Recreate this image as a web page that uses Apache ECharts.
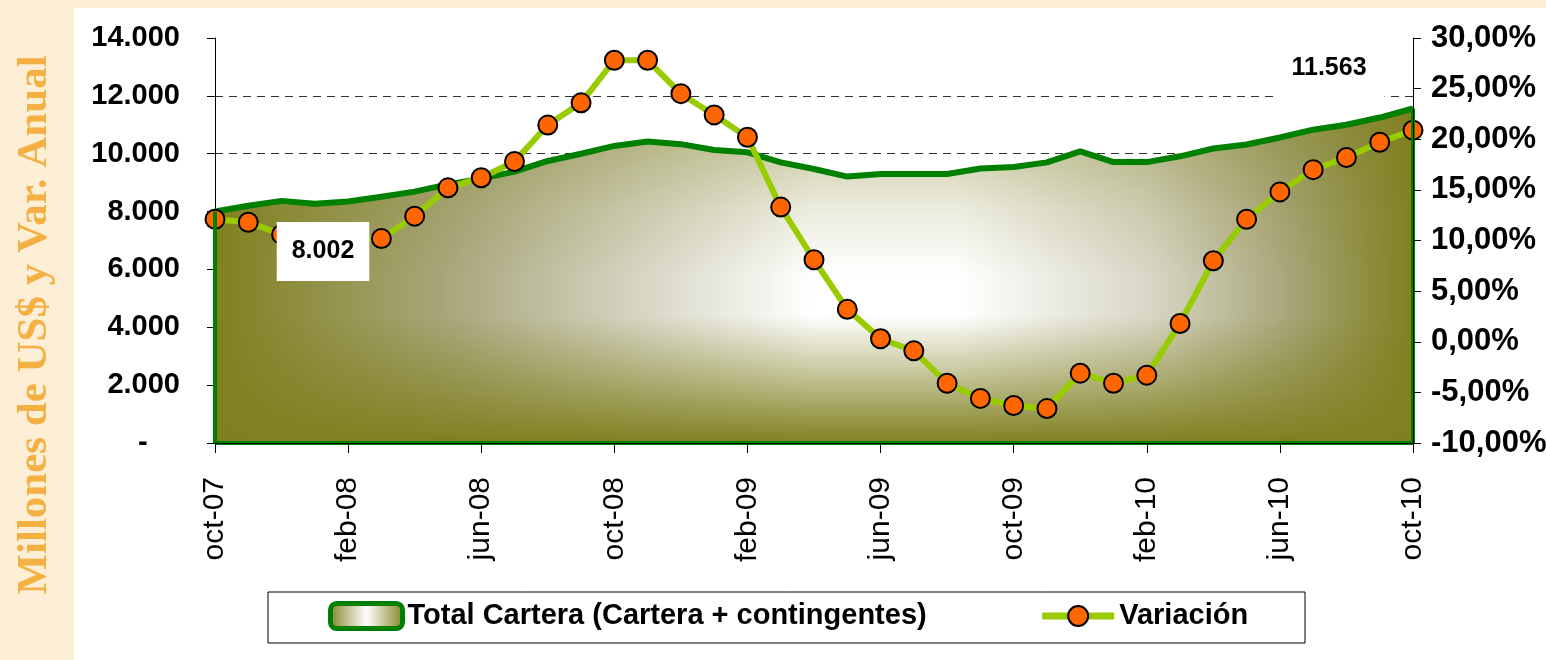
<!DOCTYPE html>
<html lang="es">
<head>
<meta charset="utf-8">
<title>Total Cartera y Variación</title>
<script src="https://cdn.jsdelivr.net/npm/echarts@6/dist/echarts.min.js"></script>
<style>
  html, body { margin: 0; padding: 0; }
  #chart { width: 1546px; height: 660px; }
</style>
</head>
<body>
<div id="chart"></div>
<script>
// meses oct-07 .. oct-10
var meses = ['oct-07','nov-07','dic-07','ene-08','feb-08','mar-08','abr-08','may-08','jun-08','jul-08','ago-08','sep-08',
             'oct-08','nov-08','dic-08','ene-09','feb-09','mar-09','abr-09','may-09','jun-09','jul-09','ago-09','sep-09',
             'oct-09','nov-09','dic-09','ene-10','feb-10','mar-10','abr-10','may-10','jun-10','jul-10','ago-10','sep-10',
             'oct-10'];

// Total Cartera (millones US$)
var totalCartera = [8002, 8200, 8370, 8270, 8350, 8510, 8690, 8940, 9140, 9380, 9750, 10000,
                    10270, 10420, 10330, 10130, 10050, 9700, 9470, 9210, 9300, 9300, 9300, 9490,
                    9540, 9700, 10080, 9710, 9710, 9910, 10180, 10320, 10560, 10830, 11000, 11250,
                    11563];

// Variación anual (%)
var variacion = [12.1, 11.8, 10.6, 10.3, 10.0, 10.2, 12.4, 15.2, 16.2, 17.8, 21.4, 23.6,
                 27.8, 27.8, 24.5, 22.4, 20.2, 13.3, 8.1, 3.2, 0.3, -0.9, -4.1, -5.6,
                 -6.3, -6.6, -3.1, -4.1, -3.3, 1.8, 8.0, 12.1, 14.8, 17.0, 18.2, 19.7,
                 20.9];

var etiquetasIzq = {min: 0, max: 14000, interval: 2000};
var etiquetasDer = {min: -10, max: 30, interval: 5};

var nombreTotal = 'Total Cartera (Cartera + contingentes)';
var nombreVar = 'Variación';

var fuente = '"Liberation Sans", Arial, sans-serif';
var oliva = '#808020';

function miles(v) {
  return String(v).replace(/\B(?=(\d{3})+(?!\d))/g, '.');
}

var degradadoH = new echarts.graphic.LinearGradient(0, 0, 1, 0, [
  {offset: 0, color: oliva},
  {offset: 0.2, color: '#aaa87e'},
  {offset: 0.36, color: '#d8d7c6'},
  {offset: 0.5, color: '#ffffff'},
  {offset: 0.62, color: '#ffffff'},
  {offset: 0.78, color: '#d8d7c6'},
  {offset: 0.9, color: '#a6a476'},
  {offset: 1, color: oliva}
]);
var degradadoV = new echarts.graphic.LinearGradient(0, 0, 0, 1, [
  {offset: 0, color: 'rgba(128,128,32,0.5)'},
  {offset: 0.3, color: 'rgba(128,128,32,0.15)'},
  {offset: 0.5, color: 'rgba(128,128,32,0)'},
  {offset: 0.62, color: 'rgba(128,128,32,0)'},
  {offset: 0.85, color: 'rgba(128,128,32,0.6)'},
  {offset: 1, color: 'rgba(128,128,32,1)'}
]);

var ultimo = totalCartera.length - 1;
var datosEtiquetas = totalCartera.map(function (v, i) {
  if (i === 0) {
    return {value: v, label: {show: true, offset: [108, 40], padding: [17, 15]}};
  }
  if (i === ultimo) {
    return {value: v, label: {show: true, offset: [-84, -40], padding: [18, 18, 24, 18]}};
  }
  return v;
});

var chart = echarts.init(document.getElementById('chart'));
var option = {
  animation: false,
  backgroundColor: '#fdeed6',
  graphic: [
    {type: 'rect', z: -100, shape: {x: 74, y: 8, width: 1472, height: 652}, style: {fill: '#ffffff'}},
    {type: 'rect', z: -90, shape: {x: 268, y: 592, width: 1037, height: 51}, style: {fill: '#ffffff', stroke: '#000', lineWidth: 1}},
    {type: 'text', x: 35, y: 325, rotation: Math.PI / 2,
     style: {text: 'Millones de US$ y Var. Anual', font: 'bold 43px "Liberation Serif", "Times New Roman", serif',
             fill: '#f4b043', align: 'center', verticalAlign: 'middle'}}
  ],
  grid: {left: 215, right: 133, top: 38, bottom: 217, outerBoundsMode: 'none'},
  legend: {
    left: 328, top: 601, padding: 0,
    itemWidth: 72, itemHeight: 25, itemGap: 112,
    textStyle: {fontFamily: fuente, fontSize: 29, fontWeight: 'bold', color: '#000'},
    data: [
      {name: nombreTotal, icon: 'roundRect',
       itemStyle: {color: new echarts.graphic.LinearGradient(0, 0, 1, 0, [
         {offset: 0, color: oliva}, {offset: 0.5, color: '#ffffff'}, {offset: 1, color: oliva}]),
         borderColor: '#008000', borderWidth: 5}},
      {name: nombreVar, lineStyle: {width: 7, color: '#99cc00'}}
    ]
  },
  xAxis: {
    type: 'category', data: meses, boundaryGap: false, z: 10,
    axisLine: {lineStyle: {color: '#000', width: 1}},
    axisTick: {interval: 3, length: 10, lineStyle: {color: '#000'}},
    axisLabel: {interval: 3, rotate: 90, margin: 34, fontFamily: fuente, fontSize: 30, color: '#000'}
  },
  yAxis: [
    {
      type: 'value', position: 'left',
      min: etiquetasIzq.min, max: etiquetasIzq.max, interval: etiquetasIzq.interval,
      axisLine: {show: true, lineStyle: {color: '#000'}},
      axisTick: {show: true, length: 8, lineStyle: {color: '#000'}},
      axisLabel: {margin: 35, fontFamily: fuente, fontSize: 29, fontWeight: 'bold', color: '#000',
                  formatter: function (v) { return v === 0 ? '-    ' : miles(v); }},
      splitLine: {show: true, showMaxLine: false, lineStyle: {color: '#333', type: [8, 6], width: 1}}
    },
    {
      type: 'value', position: 'right', z: 10,
      min: etiquetasDer.min, max: etiquetasDer.max, interval: etiquetasDer.interval,
      axisLine: {show: true, lineStyle: {color: '#000'}},
      axisTick: {show: true, length: 8, lineStyle: {color: '#000'}},
      axisLabel: {margin: 18, fontFamily: fuente, fontSize: 31, fontWeight: 'bold', color: '#000',
                  formatter: function (v) { return v.toFixed(2).replace('.', ',') + '%'; }},
      splitLine: {show: false}
    }
  ],
  series: [
    {
      name: nombreTotal, type: 'line', yAxisIndex: 0, data: totalCartera,
      symbol: 'none', lineStyle: {width: 0}, areaStyle: {color: degradadoH, opacity: 1},
      silent: true, z: 1
    },
    {
      name: nombreTotal, type: 'line', yAxisIndex: 0, data: totalCartera,
      symbol: 'none',
      lineStyle: {color: '#008000', width: 6},
      areaStyle: {color: degradadoV, opacity: 1},
      markLine: {
        silent: true, symbol: 'none', label: {show: false},
        lineStyle: {color: '#008000', width: 4, type: 'solid'},
        data: [
          [{coord: [meses[0], 0]}, {coord: [meses[0], totalCartera[0]]}],
          [{coord: [meses[ultimo], 0]}, {coord: [meses[ultimo], totalCartera[ultimo]]}],
          [{coord: [meses[0], 0]}, {coord: [meses[ultimo], 0]}]
        ]
      },
      silent: true, z: 2
    },
    {
      name: nombreVar, type: 'line', yAxisIndex: 1, data: variacion,
      symbol: 'circle', symbolSize: 19, showAllSymbol: true,
      lineStyle: {color: '#99cc00', width: 6},
      itemStyle: {color: '#ff6600', borderColor: '#000', borderWidth: 2},
      z: 3
    },
    {
      // etiquetas de datos del total, por encima de todo
      name: nombreTotal, type: 'line', yAxisIndex: 0, data: datosEtiquetas,
      symbol: 'circle', symbolSize: 1, showSymbol: true, showAllSymbol: true,
      itemStyle: {color: 'rgba(0,0,0,0)'},
      lineStyle: {width: 0, opacity: 0},
      label: {show: false, position: 'inside', backgroundColor: '#fff', color: '#000',
              fontFamily: fuente, fontSize: 25, fontWeight: 'bold',
              formatter: function (p) { return miles(p.value); }},
      silent: true, z: 5
    }
  ]
};
chart.setOption(option);
</script>
</body>
</html>
